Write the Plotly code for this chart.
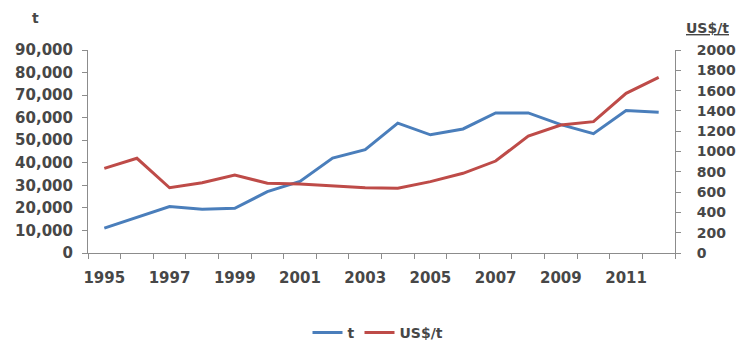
import plotly.graph_objects as go

years = list(range(1995, 2013))
tonnes = [11000, 15900, 20600, 19400, 19800, 27200, 31700, 42100, 45800, 57600,
          52400, 55000, 62100, 62100, 56900, 52900, 63200, 62400]
price = [834, 933, 643, 693, 768, 687, 680, 660, 643, 637,
         703, 785, 906, 1153, 1261, 1294, 1573, 1731]
left_ticks = list(range(0, 90001, 10000))
right_ticks = list(range(0, 2001, 200))
x_labels = list(range(1995, 2012, 2))

FONT = "DejaVu Sans"
TXT = "#474747"
AX = "#8c8c8c"

fig = go.Figure()
fig.add_trace(go.Scatter(x=years, y=tonnes, name="t", mode="lines",
                         line=dict(color="#4a7ebb", width=3), yaxis="y"))
fig.add_trace(go.Scatter(x=years, y=price, name="US$/t", mode="lines",
                         line=dict(color="#be4b48", width=3), yaxis="y2"))

tickfont = dict(family=FONT, size=15, color=TXT, weight="bold")
L, R, T, B = 88, 61, 50, 94
PW = 736 - L - R
PH = 347 - T - B
fig.update_layout(
    width=736, height=347,
    margin=dict(l=L, r=R, t=T, b=B, autoexpand=False),
    paper_bgcolor="white", plot_bgcolor="white",
    font=dict(family=FONT, size=15, color=TXT),
    showlegend=True,
    legend=dict(orientation="h", x=378 / 736, xanchor="center", xref="container",
                y=1 - 333 / 347, yanchor="middle", yref="container",
                font=dict(family=FONT, size=14, color=TXT, weight="bold")),
    xaxis=dict(range=[years[0] - 0.5, years[-1] + 0.5], tickvals=x_labels,
               ticktext=[str(v) for v in x_labels], ticks="", showgrid=False,
               showline=True, linecolor=AX, linewidth=1, zeroline=False,
               automargin=False, tickfont=tickfont, ticklabelstandoff=11,
               minor=dict(tickvals=[y - 0.5 for y in years] + [years[-1] + 0.5],
                          ticks="outside", ticklen=5, tickcolor=AX, showgrid=False)),
    yaxis=dict(range=[0, 90000], tickvals=left_ticks, automargin=False,
               ticktext=[f"{v:,}" for v in left_ticks], ticks="outside", ticklen=5,
               tickcolor=AX, showline=True, linecolor=AX, showgrid=False, zeroline=False,
               tickfont=tickfont, ticklabelstandoff=6),
    yaxis2=dict(range=[0, 2000], tickvals=right_ticks, automargin=False,
                ticktext=[str(v) for v in right_ticks], ticks="outside", ticklen=5,
                tickcolor=AX, showline=True, linecolor=AX, showgrid=False,
                zeroline=False, overlaying="y", side="right",
                tickfont=dict(family=FONT, size=14, color=TXT, weight="bold"),
                ticklabelstandoff=13),
)
fig.add_annotation(text="t", x=(35 - L) / PW, y=(T + PH - 18) / PH,
                   xanchor="center", yanchor="middle",
                   xref="paper", yref="paper", showarrow=False,
                   font=dict(family=FONT, size=14, color=TXT, weight="bold"))
fig.add_annotation(text="<u>US$/t</u>", x=(707 - L) / PW, y=(T + PH - 28) / PH,
                   xanchor="center", yanchor="middle",
                   xref="paper", yref="paper", showarrow=False,
                   font=dict(family=FONT, size=14, color=TXT, weight="bold"))
fig.write_html("out.html")
